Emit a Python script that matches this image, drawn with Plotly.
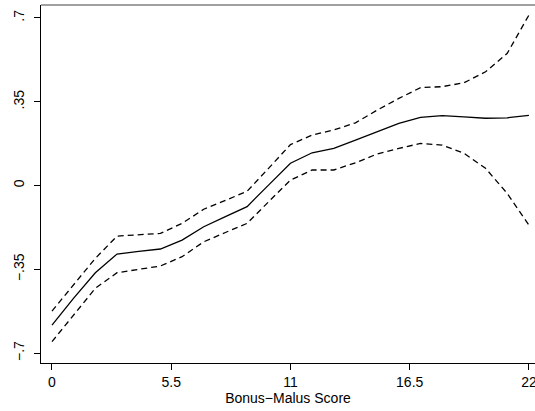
import plotly.graph_objects as go

score = list(range(23))
estimate = [-0.583, -0.470, -0.364, -0.286, -0.275, -0.265, -0.228, -0.172, -0.130, -0.088,
            0.003, 0.093, 0.137, 0.155, 0.190, 0.225, 0.260, 0.285, 0.292, 0.287, 0.281, 0.283, 0.293]
upper = [-0.524, -0.414, -0.304, -0.211, -0.205, -0.200, -0.158, -0.099, -0.062, -0.024,
         0.073, 0.171, 0.211, 0.232, 0.262, 0.315, 0.364, 0.409, 0.413, 0.429, 0.475, 0.552, 0.712]
lower = [-0.652, -0.540, -0.429, -0.364, -0.350, -0.336, -0.297, -0.235, -0.196, -0.158,
         -0.067, 0.023, 0.065, 0.065, 0.095, 0.132, 0.155, 0.176, 0.169, 0.135, 0.072, -0.033, -0.165]

x_tickvals = [0, 5.5, 11, 16.5, 22]
x_ticktext = ["0", "5.5", "11", "16.5", "22"]
y_tickvals = [-0.7, -0.35, 0, 0.35, 0.7]
y_ticktext = ["\u2212.7", "\u2212.35", "0", ".35", ".7"]

font = "Liberation Sans, Arial, Helvetica, sans-serif"

fig = go.Figure()
fig.add_trace(go.Scatter(x=score, y=upper, mode="lines",
                         line=dict(color="black", width=1.3, dash="6px,4px"), showlegend=False))
fig.add_trace(go.Scatter(x=score, y=lower, mode="lines",
                         line=dict(color="black", width=1.3, dash="6px,4px"), showlegend=False))
fig.add_trace(go.Scatter(x=score, y=estimate, mode="lines",
                         line=dict(color="black", width=1.3), showlegend=False))

fig.update_layout(
    width=535, height=411,
    margin=dict(l=41, r=0, t=5, b=48),
    plot_bgcolor="white", paper_bgcolor="white",
    font=dict(family=font, size=14, color="black"),
    xaxis=dict(range=[-0.507, 22.28], tickvals=x_tickvals, ticktext=x_ticktext,
               showgrid=False, zeroline=False, showline=True, linecolor="black", linewidth=1.4,
               ticks="outside", ticklen=6, tickwidth=1, tickcolor="black", automargin=False,
               ticklabeloverflow="allow",
               title=dict(text="Bonus\u2212Malus Score", standoff=1, font=dict(size=14))),
    yaxis=dict(range=[-0.741, 0.754], tickvals=y_tickvals, ticktext=y_ticktext,
               showgrid=False, zeroline=False, showline=True, linecolor="black", linewidth=1.4,
               ticks="outside", ticklen=6, tickwidth=1, tickcolor="black", tickangle=-90,
               ticklabelstandoff=4, automargin=False, ticklabeloverflow="allow"),
    shapes=[dict(type="line", xref="paper", yref="paper", x0=0, x1=1, y0=1, y1=1,
                 line=dict(color="#808080", width=1.5))],
)

fig.write_html("out.html", config={"displayModeBar": False},
               post_script="document.body.style.margin='0px';")
